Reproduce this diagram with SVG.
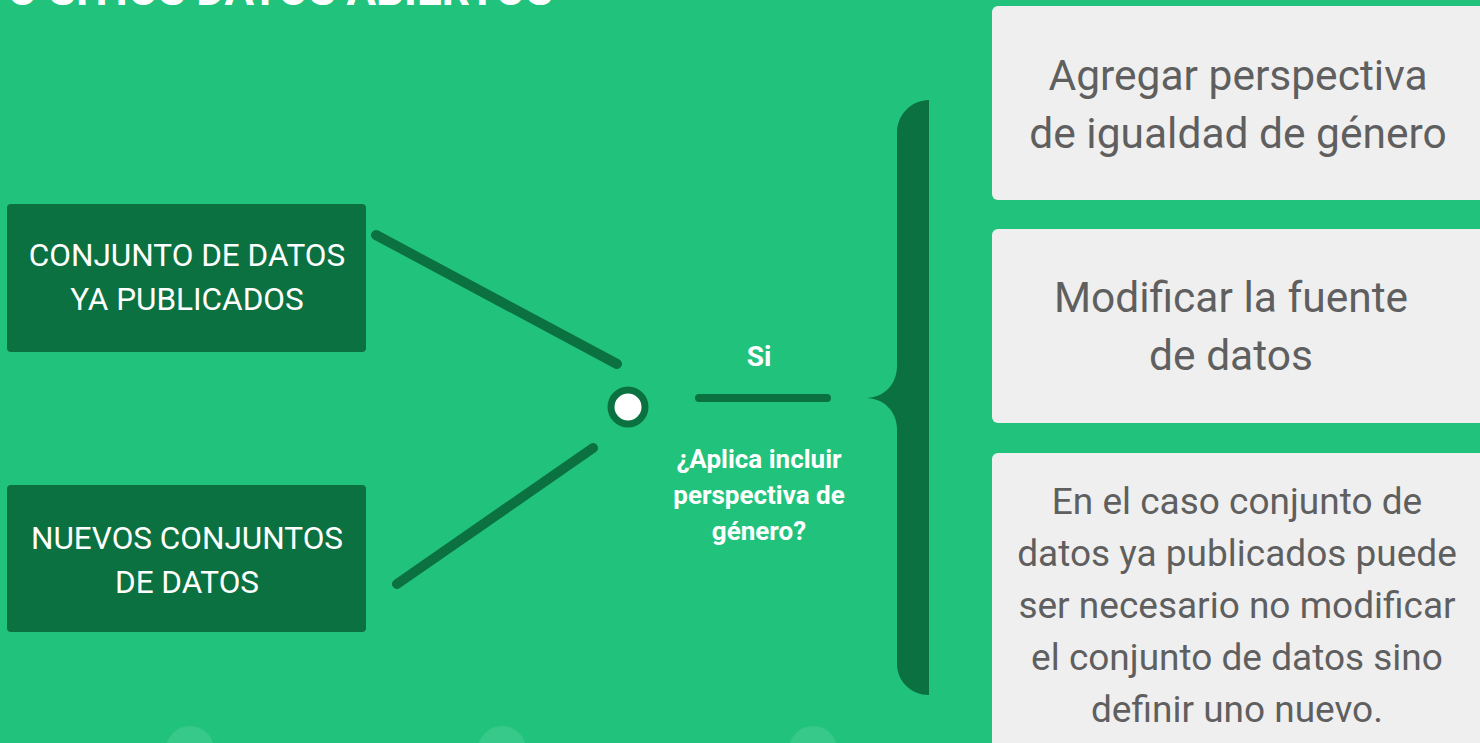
<svg xmlns="http://www.w3.org/2000/svg" width="1480" height="743" viewBox="0 0 1480 743">
<style>
.bg{fill:#21C37C}
.dark{fill:#0B7140}
.gray{fill:#EFEFEF}
.wt{font-family:Roboto,"Liberation Sans",sans-serif;fill:#FFFFFF;text-anchor:middle}
.gt{font-family:Roboto,"Liberation Sans",sans-serif;fill:#5F5F5F;text-anchor:middle}
.conn{stroke:#0B7140;stroke-linecap:round;fill:none}
.dot{fill:#FFFFFF;fill-opacity:0.1}
</style>
<rect class="bg" x="0" y="0" width="1480" height="743"/>
<text class="wt" x="280" y="5" font-size="44" font-weight="bold">O SITIOS DATOS ABIERTOS</text>
<g id="deco">
<circle class="dot" cx="190" cy="750" r="24"/>
<circle class="dot" cx="502" cy="750" r="24"/>
<circle class="dot" cx="813" cy="750" r="24"/>
</g>
<g id="connectors">
<line class="conn" x1="376" y1="235" x2="617" y2="364" stroke-width="10"/>
<line class="conn" x1="397" y1="584" x2="593" y2="448" stroke-width="10"/>
<line class="conn" x1="699" y1="398" x2="827" y2="398" stroke-width="8"/>
</g>
<g id="node-publicados">
<rect class="dark" x="7" y="204" width="359" height="148" rx="4"/>
<text class="wt" x="187" y="266" font-size="31.5">CONJUNTO DE DATOS</text>
<text class="wt" x="187" y="310" font-size="31.5">YA PUBLICADOS</text>
</g>
<g id="node-nuevos">
<rect class="dark" x="7" y="485" width="359" height="147" rx="4"/>
<text class="wt" x="187" y="549" font-size="31.5">NUEVOS CONJUNTOS</text>
<text class="wt" x="187" y="593" font-size="31.5">DE DATOS</text>
</g>
<g id="node-decision">
<circle cx="628" cy="407" r="17" fill="#FFFFFF" stroke="#0B7140" stroke-width="7"/>
<text class="wt" x="759" y="366" font-size="28" font-weight="bold">Si</text>
<text class="wt" x="759" y="468" font-size="26" font-weight="bold">¿Aplica incluir</text>
<text class="wt" x="759" y="504" font-size="26" font-weight="bold">perspectiva de</text>
<text class="wt" x="759" y="540" font-size="26" font-weight="bold">género?</text>
</g>
<g id="brace">
<path class="dark" d="M929,100 L929,695 C912,695 897,682 897,664 L897,429 C897,412 884,398 866,398 C884,398 897,384 897,366 L897,133 C897,114 912,100 929,100 Z"/>
</g>
<g id="node-agregar">
<rect class="gray" x="992" y="6" width="500" height="194" rx="6"/>
<text class="gt" x="1238" y="90" font-size="42.5">Agregar perspectiva</text>
<text class="gt" x="1238" y="148" font-size="42.5">de igualdad de género</text>
</g>
<g id="node-modificar">
<rect class="gray" x="992" y="229" width="500" height="194" rx="6"/>
<text class="gt" x="1231" y="312" font-size="42.5">Modificar la fuente</text>
<text class="gt" x="1231" y="370" font-size="42.5">de datos</text>
</g>
<g id="node-caso">
<rect class="gray" x="992" y="453" width="500" height="300" rx="6"/>
<text class="gt" x="1237" y="514" font-size="37">En el caso conjunto de</text>
<text class="gt" x="1237" y="566" font-size="37">datos ya publicados puede</text>
<text class="gt" x="1237" y="618" font-size="37">ser necesario no modificar</text>
<text class="gt" x="1237" y="670" font-size="37">el conjunto de datos sino</text>
<text class="gt" x="1237" y="722" font-size="37">definir uno nuevo.</text>
</g>
</svg>
